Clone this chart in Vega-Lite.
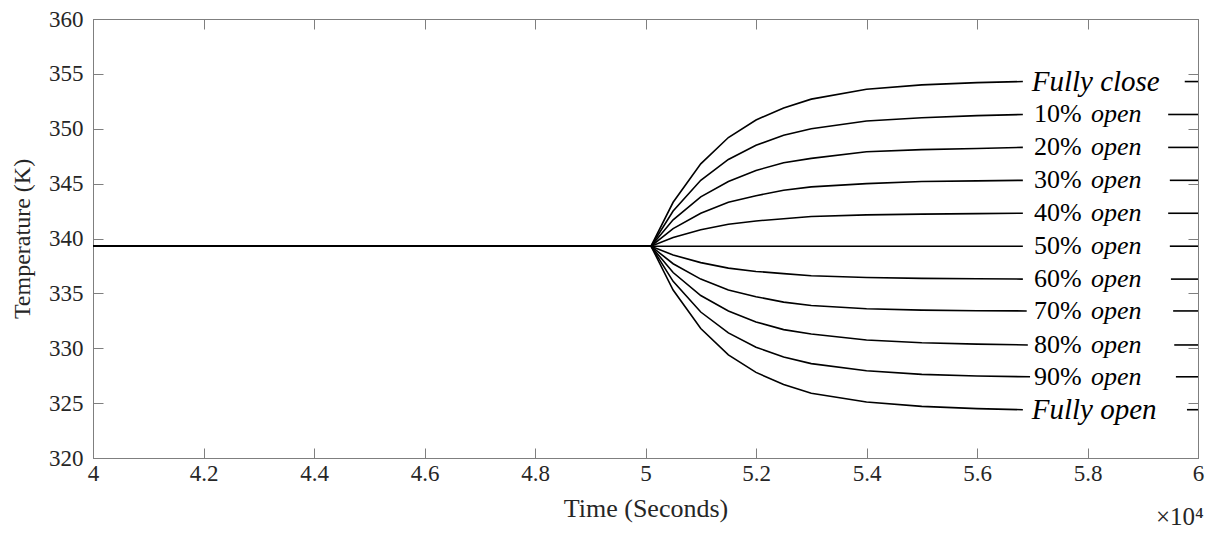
{
  "$schema": "https://vega.github.io/schema/vega-lite/v6.json",
  "width": 1105,
  "height": 439,
  "autosize": {"type": "none"},
  "padding": {"left": 93, "top": 19, "right": 12, "bottom": 77},
  "background": "white",
  "title": {
    "text": "×10⁴",
    "orient": "bottom",
    "anchor": "end",
    "offset": -16,
    "font": "Liberation Serif",
    "fontSize": 25,
    "fontWeight": "normal",
    "color": "#262626"
  },
  "datasets": {
    "curves": [
      {"s": "Fully close", "p": "a", "t": 40000, "T": 339.3},
      {"s": "Fully close", "p": "a", "t": 50100, "T": 339.3},
      {"s": "Fully close", "p": "a", "t": 50500, "T": 343.3},
      {"s": "Fully close", "p": "a", "t": 51000, "T": 346.8},
      {"s": "Fully close", "p": "a", "t": 51500, "T": 349.2},
      {"s": "Fully close", "p": "a", "t": 52000, "T": 350.8},
      {"s": "Fully close", "p": "a", "t": 52500, "T": 351.9},
      {"s": "Fully close", "p": "a", "t": 53000, "T": 352.7},
      {"s": "Fully close", "p": "a", "t": 54000, "T": 353.6},
      {"s": "Fully close", "p": "a", "t": 55000, "T": 354.0},
      {"s": "Fully close", "p": "a", "t": 56000, "T": 354.2},
      {"s": "Fully close", "p": "a", "t": 56830, "T": 354.3},
      {"s": "Fully close", "p": "b", "t": 59760, "T": 354.3},
      {"s": "Fully close", "p": "b", "t": 60000, "T": 354.3},

      {"s": "10% open", "p": "a", "t": 40000, "T": 339.3},
      {"s": "10% open", "p": "a", "t": 50100, "T": 339.3},
      {"s": "10% open", "p": "a", "t": 50500, "T": 342.5},
      {"s": "10% open", "p": "a", "t": 51000, "T": 345.3},
      {"s": "10% open", "p": "a", "t": 51500, "T": 347.2},
      {"s": "10% open", "p": "a", "t": 52000, "T": 348.5},
      {"s": "10% open", "p": "a", "t": 52500, "T": 349.4},
      {"s": "10% open", "p": "a", "t": 53000, "T": 350.0},
      {"s": "10% open", "p": "a", "t": 54000, "T": 350.7},
      {"s": "10% open", "p": "a", "t": 55000, "T": 351.0},
      {"s": "10% open", "p": "a", "t": 56000, "T": 351.2},
      {"s": "10% open", "p": "a", "t": 56830, "T": 351.3},
      {"s": "10% open", "p": "b", "t": 59460, "T": 351.3},
      {"s": "10% open", "p": "b", "t": 60000, "T": 351.3},

      {"s": "20% open", "p": "a", "t": 40000, "T": 339.3},
      {"s": "20% open", "p": "a", "t": 50100, "T": 339.3},
      {"s": "20% open", "p": "a", "t": 50500, "T": 341.7},
      {"s": "20% open", "p": "a", "t": 51000, "T": 343.8},
      {"s": "20% open", "p": "a", "t": 51500, "T": 345.2},
      {"s": "20% open", "p": "a", "t": 52000, "T": 346.2},
      {"s": "20% open", "p": "a", "t": 52500, "T": 346.9},
      {"s": "20% open", "p": "a", "t": 53000, "T": 347.3},
      {"s": "20% open", "p": "a", "t": 54000, "T": 347.9},
      {"s": "20% open", "p": "a", "t": 55000, "T": 348.1},
      {"s": "20% open", "p": "a", "t": 56000, "T": 348.2},
      {"s": "20% open", "p": "a", "t": 56830, "T": 348.3},
      {"s": "20% open", "p": "b", "t": 59460, "T": 348.3},
      {"s": "20% open", "p": "b", "t": 60000, "T": 348.3},

      {"s": "30% open", "p": "a", "t": 40000, "T": 339.3},
      {"s": "30% open", "p": "a", "t": 50100, "T": 339.3},
      {"s": "30% open", "p": "a", "t": 50500, "T": 340.9},
      {"s": "30% open", "p": "a", "t": 51000, "T": 342.3},
      {"s": "30% open", "p": "a", "t": 51500, "T": 343.3},
      {"s": "30% open", "p": "a", "t": 52000, "T": 343.9},
      {"s": "30% open", "p": "a", "t": 52500, "T": 344.4},
      {"s": "30% open", "p": "a", "t": 53000, "T": 344.7},
      {"s": "30% open", "p": "a", "t": 54000, "T": 345.0},
      {"s": "30% open", "p": "a", "t": 55000, "T": 345.2},
      {"s": "30% open", "p": "a", "t": 56000, "T": 345.25},
      {"s": "30% open", "p": "a", "t": 56830, "T": 345.3},
      {"s": "30% open", "p": "b", "t": 59490, "T": 345.3},
      {"s": "30% open", "p": "b", "t": 60000, "T": 345.3},

      {"s": "40% open", "p": "a", "t": 40000, "T": 339.3},
      {"s": "40% open", "p": "a", "t": 50100, "T": 339.3},
      {"s": "40% open", "p": "a", "t": 50500, "T": 340.1},
      {"s": "40% open", "p": "a", "t": 51000, "T": 340.8},
      {"s": "40% open", "p": "a", "t": 51500, "T": 341.3},
      {"s": "40% open", "p": "a", "t": 52000, "T": 341.6},
      {"s": "40% open", "p": "a", "t": 52500, "T": 341.8},
      {"s": "40% open", "p": "a", "t": 53000, "T": 342.0},
      {"s": "40% open", "p": "a", "t": 54000, "T": 342.15},
      {"s": "40% open", "p": "a", "t": 55000, "T": 342.22},
      {"s": "40% open", "p": "a", "t": 56000, "T": 342.27},
      {"s": "40% open", "p": "a", "t": 56830, "T": 342.3},
      {"s": "40% open", "p": "b", "t": 59460, "T": 342.3},
      {"s": "40% open", "p": "b", "t": 60000, "T": 342.3},

      {"s": "50% open", "p": "a", "t": 40000, "T": 339.3},
      {"s": "50% open", "p": "a", "t": 50100, "T": 339.3},
      {"s": "50% open", "p": "a", "t": 53000, "T": 339.3},
      {"s": "50% open", "p": "a", "t": 56830, "T": 339.3},
      {"s": "50% open", "p": "b", "t": 59490, "T": 339.3},
      {"s": "50% open", "p": "b", "t": 60000, "T": 339.3},

      {"s": "60% open", "p": "a", "t": 40000, "T": 339.3},
      {"s": "60% open", "p": "a", "t": 50100, "T": 339.3},
      {"s": "60% open", "p": "a", "t": 50500, "T": 338.5},
      {"s": "60% open", "p": "a", "t": 51000, "T": 337.8},
      {"s": "60% open", "p": "a", "t": 51500, "T": 337.3},
      {"s": "60% open", "p": "a", "t": 52000, "T": 337.0},
      {"s": "60% open", "p": "a", "t": 52500, "T": 336.8},
      {"s": "60% open", "p": "a", "t": 53000, "T": 336.6},
      {"s": "60% open", "p": "a", "t": 54000, "T": 336.45},
      {"s": "60% open", "p": "a", "t": 55000, "T": 336.37},
      {"s": "60% open", "p": "a", "t": 56000, "T": 336.33},
      {"s": "60% open", "p": "a", "t": 56830, "T": 336.3},
      {"s": "60% open", "p": "b", "t": 59510, "T": 336.3},
      {"s": "60% open", "p": "b", "t": 60000, "T": 336.3},

      {"s": "70% open", "p": "a", "t": 40000, "T": 339.3},
      {"s": "70% open", "p": "a", "t": 50100, "T": 339.3},
      {"s": "70% open", "p": "a", "t": 50500, "T": 337.7},
      {"s": "70% open", "p": "a", "t": 51000, "T": 336.3},
      {"s": "70% open", "p": "a", "t": 51500, "T": 335.3},
      {"s": "70% open", "p": "a", "t": 52000, "T": 334.7},
      {"s": "70% open", "p": "a", "t": 52500, "T": 334.2},
      {"s": "70% open", "p": "a", "t": 53000, "T": 333.9},
      {"s": "70% open", "p": "a", "t": 54000, "T": 333.6},
      {"s": "70% open", "p": "a", "t": 55000, "T": 333.47},
      {"s": "70% open", "p": "a", "t": 56000, "T": 333.42},
      {"s": "70% open", "p": "a", "t": 56900, "T": 333.4},
      {"s": "70% open", "p": "b", "t": 59550, "T": 333.4},
      {"s": "70% open", "p": "b", "t": 60000, "T": 333.4},

      {"s": "80% open", "p": "a", "t": 40000, "T": 339.3},
      {"s": "80% open", "p": "a", "t": 50100, "T": 339.3},
      {"s": "80% open", "p": "a", "t": 50500, "T": 336.9},
      {"s": "80% open", "p": "a", "t": 51000, "T": 334.8},
      {"s": "80% open", "p": "a", "t": 51500, "T": 333.4},
      {"s": "80% open", "p": "a", "t": 52000, "T": 332.4},
      {"s": "80% open", "p": "a", "t": 52500, "T": 331.7},
      {"s": "80% open", "p": "a", "t": 53000, "T": 331.3},
      {"s": "80% open", "p": "a", "t": 54000, "T": 330.75},
      {"s": "80% open", "p": "a", "t": 55000, "T": 330.5},
      {"s": "80% open", "p": "a", "t": 56000, "T": 330.38},
      {"s": "80% open", "p": "a", "t": 56920, "T": 330.3},
      {"s": "80% open", "p": "b", "t": 59570, "T": 330.3},
      {"s": "80% open", "p": "b", "t": 60000, "T": 330.3},

      {"s": "90% open", "p": "a", "t": 40000, "T": 339.3},
      {"s": "90% open", "p": "a", "t": 50100, "T": 339.3},
      {"s": "90% open", "p": "a", "t": 50500, "T": 336.1},
      {"s": "90% open", "p": "a", "t": 51000, "T": 333.3},
      {"s": "90% open", "p": "a", "t": 51500, "T": 331.4},
      {"s": "90% open", "p": "a", "t": 52000, "T": 330.1},
      {"s": "90% open", "p": "a", "t": 52500, "T": 329.2},
      {"s": "90% open", "p": "a", "t": 53000, "T": 328.6},
      {"s": "90% open", "p": "a", "t": 54000, "T": 327.95},
      {"s": "90% open", "p": "a", "t": 55000, "T": 327.62},
      {"s": "90% open", "p": "a", "t": 56000, "T": 327.47},
      {"s": "90% open", "p": "a", "t": 56960, "T": 327.4},
      {"s": "90% open", "p": "b", "t": 59600, "T": 327.4},
      {"s": "90% open", "p": "b", "t": 60000, "T": 327.4},

      {"s": "Fully open", "p": "a", "t": 40000, "T": 339.3},
      {"s": "Fully open", "p": "a", "t": 50100, "T": 339.3},
      {"s": "Fully open", "p": "a", "t": 50500, "T": 335.3},
      {"s": "Fully open", "p": "a", "t": 51000, "T": 331.8},
      {"s": "Fully open", "p": "a", "t": 51500, "T": 329.4},
      {"s": "Fully open", "p": "a", "t": 52000, "T": 327.8},
      {"s": "Fully open", "p": "a", "t": 52500, "T": 326.7},
      {"s": "Fully open", "p": "a", "t": 53000, "T": 325.9},
      {"s": "Fully open", "p": "a", "t": 54000, "T": 325.1},
      {"s": "Fully open", "p": "a", "t": 55000, "T": 324.7},
      {"s": "Fully open", "p": "a", "t": 56000, "T": 324.5},
      {"s": "Fully open", "p": "a", "t": 56830, "T": 324.4},
      {"s": "Fully open", "p": "b", "t": 59800, "T": 324.4},
      {"s": "Fully open", "p": "b", "t": 60000, "T": 324.4}
    ],
    "labels": [
      {"s": "Fully close", "num": "", "word": "Fully close", "T": 354.3},
      {"s": "10% open", "num": "10%", "word": "open", "T": 351.3},
      {"s": "20% open", "num": "20%", "word": "open", "T": 348.3},
      {"s": "30% open", "num": "30%", "word": "open", "T": 345.3},
      {"s": "40% open", "num": "40%", "word": "open", "T": 342.3},
      {"s": "50% open", "num": "50%", "word": "open", "T": 339.3},
      {"s": "60% open", "num": "60%", "word": "open", "T": 336.3},
      {"s": "70% open", "num": "70%", "word": "open", "T": 333.4},
      {"s": "80% open", "num": "80%", "word": "open", "T": 330.3},
      {"s": "90% open", "num": "90%", "word": "open", "T": 327.4},
      {"s": "Fully open", "num": "", "word": "Fully open", "T": 324.4}
    ]
  },
  "resolve": {"axis": {"x": "independent", "y": "independent"}},
  "layer": [
    {
      "data": {"name": "curves"},
      "mark": {"type": "line", "color": "black", "strokeWidth": 1.6, "interpolate": "linear"},
      "encoding": {
        "x": {
          "field": "t", "type": "quantitative",
          "scale": {"domain": [40000, 60000], "nice": false, "zero": false},
          "axis": {
            "orient": "bottom",
            "values": [40000, 42000, 44000, 46000, 48000, 50000, 52000, 54000, 56000, 58000, 60000],
            "labelExpr": "datum.value / 10000 + ''",
            "title": "Time (Seconds)",
            "titleFontSize": 26,
            "titlePadding": 10,
            "labelPadding": 14
          }
        },
        "y": {
          "field": "T", "type": "quantitative",
          "scale": {"domain": [320, 360], "nice": false, "zero": false},
          "axis": {
            "orient": "left",
            "values": [320, 325, 330, 335, 340, 345, 350, 355, 360],
            "title": "Temperature (K)",
            "titleFontSize": 24,
            "titlePadding": 14,
            "labelPadding": 20
          }
        },
        "detail": [{"field": "s"}, {"field": "p"}]
      }
    },
    {
      "data": {"name": "labels"},
      "transform": [{"filter": "datum.num != ''"}],
      "mark": {"type": "text", "align": "left", "baseline": "middle", "font": "Liberation Serif", "fontSize": 26, "color": "black"},
      "encoding": {
        "x": {
          "datum": 57030, "type": "quantitative",
          "scale": {"domain": [40000, 60000], "nice": false, "zero": false},
          "axis": {
            "orient": "top",
            "values": [40000, 42000, 44000, 46000, 48000, 50000, 52000, 54000, 56000, 58000, 60000],
            "labels": false, "title": null
          }
        },
        "y": {
          "field": "T", "type": "quantitative",
          "scale": {"domain": [320, 360], "nice": false, "zero": false},
          "axis": {
            "orient": "right",
            "values": [320, 325, 330, 335, 340, 345, 350, 355, 360],
            "labels": false, "title": null
          }
        },
        "text": {"field": "num"}
      }
    },
    {
      "data": {"name": "labels"},
      "transform": [{"filter": "datum.num != ''"}],
      "mark": {"type": "text", "align": "left", "baseline": "middle", "dx": 57, "font": "Liberation Serif", "fontStyle": "italic", "fontSize": 26, "color": "black"},
      "encoding": {
        "x": {"datum": 57030, "type": "quantitative", "scale": {"domain": [40000, 60000], "nice": false, "zero": false}, "axis": null},
        "y": {"field": "T", "type": "quantitative", "scale": {"domain": [320, 360], "nice": false, "zero": false}, "axis": null},
        "text": {"field": "word"}
      }
    },
    {
      "data": {"name": "labels"},
      "transform": [{"filter": "datum.num == ''"}],
      "mark": {"type": "text", "align": "left", "baseline": "middle", "font": "Liberation Serif", "fontStyle": "italic", "fontSize": 29, "color": "black"},
      "encoding": {
        "x": {"datum": 56990, "type": "quantitative", "scale": {"domain": [40000, 60000], "nice": false, "zero": false}, "axis": null},
        "y": {"field": "T", "type": "quantitative", "scale": {"domain": [320, 360], "nice": false, "zero": false}, "axis": null},
        "text": {"field": "word"}
      }
    }
  ],
  "config": {
    "view": {"stroke": "#7f7f7f", "strokeWidth": 1},
    "axis": {
      "grid": false,
      "domainColor": "#7f7f7f",
      "tickColor": "#7f7f7f",
      "tickSize": -10,
      "labelFont": "Liberation Serif",
      "labelFontSize": 23,
      "labelColor": "#262626",
      "titleFont": "Liberation Serif",
      "titleFontSize": 23,
      "titleFontWeight": "normal",
      "titleColor": "#262626",
      "labelFlush": false,
      "labelOverlap": false
    }
  }
}
